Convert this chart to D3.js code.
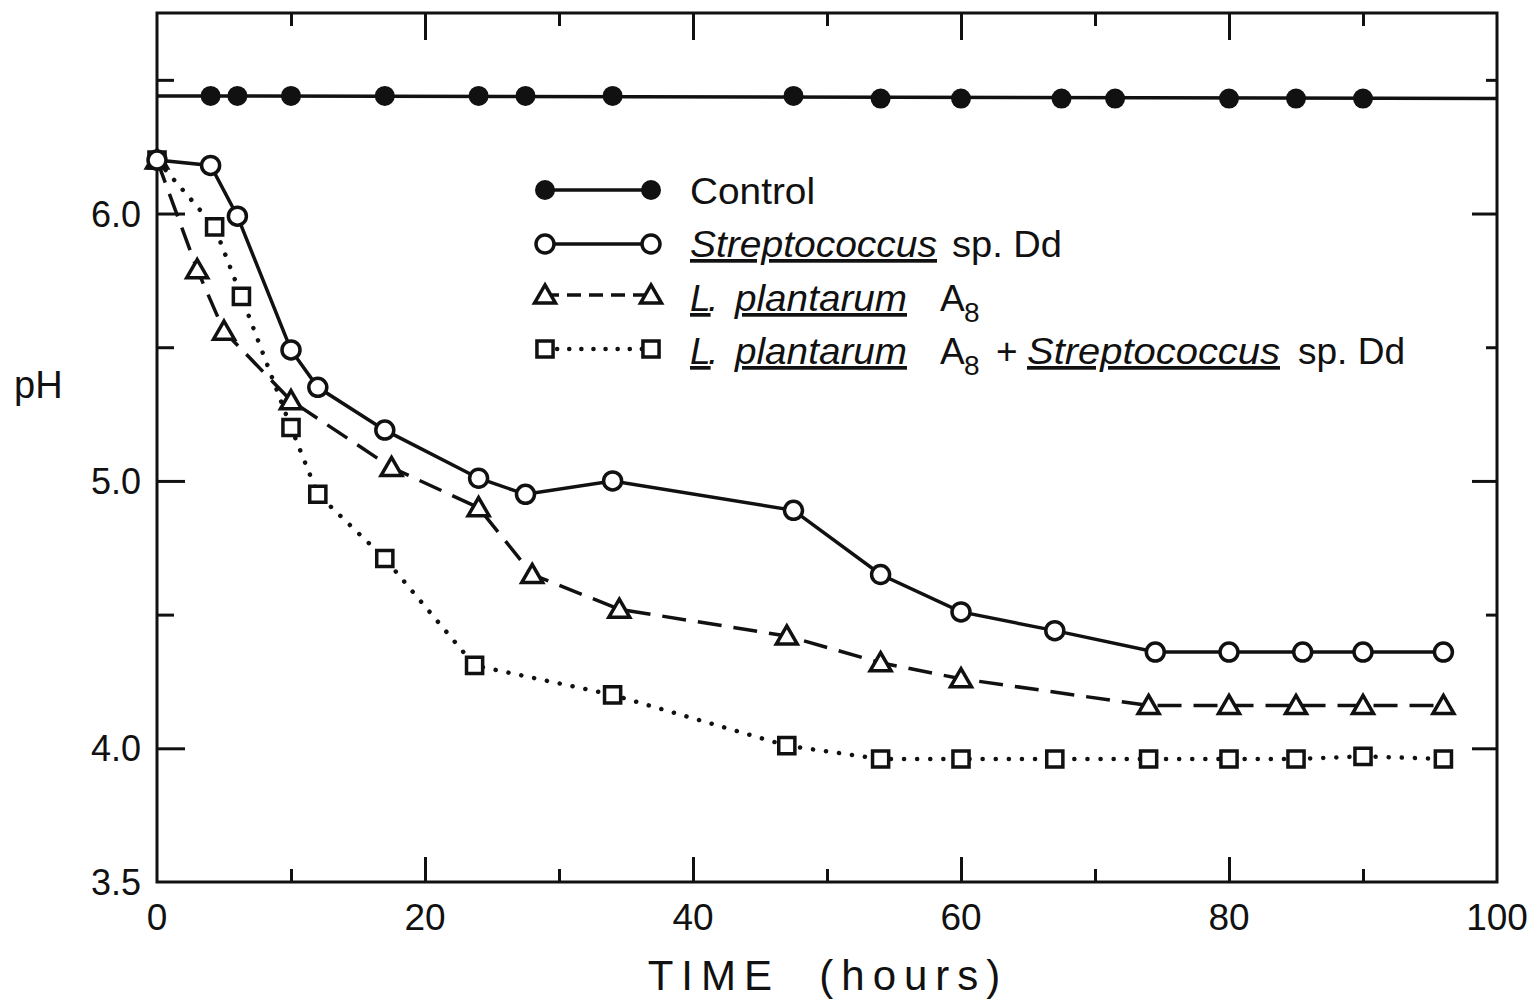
<!DOCTYPE html>
<html>
<head>
<meta charset="utf-8">
<script src="https://cdn.jsdelivr.net/npm/d3@7"></script>
<style>
  body { margin: 0; background: #fff; }
  text { font-family: "Liberation Sans", Arial, sans-serif; fill: #111; }
</style>
</head>
<body>
<svg width="1540" height="1001"></svg>
<script>
// data (time in hours, pH)
var controlHours = [4, 6, 10, 17, 24, 27.5, 34, 47.5, 54, 60, 67.5, 71.5, 80, 85, 90];
var controlPH    = [6.44, 6.44, 6.44, 6.44, 6.44, 6.44, 6.44, 6.44, 6.43, 6.43, 6.43, 6.43, 6.43, 6.43, 6.43];
var controlLineHours = [0, 100];
var controlLinePH    = [6.44, 6.43];

var streptoHours = [0, 4, 6, 10, 12, 17, 24, 27.5, 34, 47.5, 54, 60, 67, 74.5, 80, 85.5, 90, 96];
var streptoPH    = [6.20, 6.18, 5.99, 5.49, 5.35, 5.19, 5.01, 4.95, 5.00, 4.89, 4.65, 4.51, 4.44, 4.36, 4.36, 4.36, 4.36, 4.36];

var plantHours = [0, 3, 5, 10, 17.5, 24, 28, 34.5, 47, 54, 60, 74, 80, 85, 90, 96];
var plantPH    = [6.20, 5.79, 5.56, 5.30, 5.05, 4.90, 4.65, 4.52, 4.42, 4.32, 4.26, 4.16, 4.16, 4.16, 4.16, 4.16];

var mixHours = [0, 4.3, 6.3, 10, 12, 17, 23.7, 34, 47, 54, 60, 67, 74, 80, 85, 90, 96];
var mixPH    = [6.20, 5.95, 5.69, 5.20, 4.95, 4.71, 4.31, 4.20, 4.01, 3.96, 3.96, 3.96, 3.96, 3.96, 3.96, 3.97, 3.96];

var xMajor = [20, 40, 60, 80];
var xMinor = [10, 30, 50, 70, 90];
var xLabels = [0, 20, 40, 60, 80, 100];
var yMajor = [4.0, 5.0, 6.0];
var yMinor = [4.5, 5.5, 6.5];
var yLabels = [3.5, 4.0, 5.0, 6.0];

var svg = d3.select("svg"),
    plotLeft = 157, plotRight = 1497, plotTop = 13, plotBottom = 882;

var x = d3.scaleLinear().domain([0, 100]).range([plotLeft, plotRight]),
    y = d3.scaleLinear().domain([3.5, 6.75]).range([plotBottom, plotTop]);

function pairs(a, b) { return a.map(function(d, i) { return [d, b[i]]; }); }

// ticks pointing into the plot on all four sides
function tickAxis(axis, pos, values, len) {
  var g = svg.append("g")
     .attr("transform", pos)
     .call(axis.tickValues(values).tickSize(len).tickFormat(""));
  g.select(".domain").remove();
  g.selectAll(".tick line").attr("stroke", "#111").attr("stroke-width", 3);
}
tickAxis(d3.axisBottom(x), "translate(0," + plotBottom + ")", xMajor, -25);
tickAxis(d3.axisBottom(x), "translate(0," + plotBottom + ")", xMinor, -13);
tickAxis(d3.axisTop(x), "translate(0," + plotTop + ")", xMajor, -27);
tickAxis(d3.axisTop(x), "translate(0," + plotTop + ")", xMinor, -13);
tickAxis(d3.axisLeft(y), "translate(" + plotLeft + ",0)", yMajor, -28);
tickAxis(d3.axisLeft(y), "translate(" + plotLeft + ",0)", yMinor, -17);
tickAxis(d3.axisRight(y), "translate(" + plotRight + ",0)", yMajor, -25);
tickAxis(d3.axisRight(y), "translate(" + plotRight + ",0)", yMinor, -11);

svg.append("rect")
   .attr("x", plotLeft).attr("y", plotTop)
   .attr("width", plotRight - plotLeft).attr("height", plotBottom - plotTop)
   .attr("fill", "none").attr("stroke", "#111").attr("stroke-width", 3);

// tick labels
svg.selectAll(".xl").data(xLabels).enter().append("text")
   .attr("x", function(d) { return x(d); })
   .attr("y", plotBottom + 48)
   .attr("text-anchor", "middle")
   .attr("font-size", "37px")
   .text(function(d) { return d; });

svg.selectAll(".yl").data(yLabels).enter().append("text")
   .attr("x", plotLeft - 16)
   .attr("y", function(d) { return y(d) + 13; })
   .attr("text-anchor", "end")
   .attr("font-size", "36px")
   .text(function(d) { return d.toFixed(1); });

svg.append("text")
   .attr("x", 828).attr("y", 990)
   .attr("text-anchor", "middle")
   .attr("font-size", "42px")
   .attr("letter-spacing", "8px")
   .attr("xml:space", "preserve")
   .text("TIME  (hours)");

svg.append("text")
   .attr("x", 14).attr("y", 398)
   .attr("font-size", "38px")
   .text("pH");

// series
var line = d3.line().x(function(d) { return x(d[0]); }).y(function(d) { return y(d[1]); });

function drawLine(data, dash, width, cap) {
  svg.append("path")
     .datum(data)
     .attr("d", line)
     .attr("fill", "none")
     .attr("stroke", "#111")
     .attr("stroke-width", width)
     .attr("stroke-linecap", cap || "butt")
     .attr("stroke-dasharray", dash);
}

drawLine(pairs(controlLineHours, controlLinePH), null, 3.5);
drawLine(pairs(streptoHours, streptoPH), null, 3.5);
drawLine(pairs(plantHours, plantPH), "24 12", 3.5);
drawLine(pairs(mixHours, mixPH), "0.1 13", 4.5, "round");

var triangle = d3.symbol().type(d3.symbolTriangle).size(190),
    square = d3.symbol().type(d3.symbolSquare).size(260);

function marker(g, kind, px, py) {
  if (kind === "filled") {
    g.append("circle").attr("cx", px).attr("cy", py).attr("r", 10).attr("fill", "#111");
  } else if (kind === "circle") {
    g.append("circle").attr("cx", px).attr("cy", py).attr("r", 9)
     .attr("fill", "#fff").attr("stroke", "#111").attr("stroke-width", 3.5);
  } else {
    g.append("path").attr("d", kind === "triangle" ? triangle() : square())
     .attr("transform", "translate(" + px + "," + (py + (kind === "triangle" ? 2 : 0)) + ")")
     .attr("fill", "#fff").attr("stroke", "#111").attr("stroke-width", 3.5);
  }
}

var mg = svg.append("g");
pairs(mixHours, mixPH).forEach(function(d) { marker(mg, "square", x(d[0]), y(d[1])); });
pairs(plantHours, plantPH).forEach(function(d) { marker(mg, "triangle", x(d[0]), y(d[1])); });
pairs(streptoHours, streptoPH).forEach(function(d) { marker(mg, "circle", x(d[0]), y(d[1])); });
pairs(controlHours, controlPH).forEach(function(d) { marker(mg, "filled", x(d[0]), y(d[1])); });

// legend
var lg = svg.append("g");
var legendRows = [
  {y: 190, kind: "filled", dash: null, width: 3.5},
  {y: 244, kind: "circle", dash: null, width: 3.5},
  {y: 295, kind: "triangle", dash: "14 8", width: 3.5},
  {y: 349, kind: "square", dash: "0.1 12", width: 4.5}
];
legendRows.forEach(function(r) {
  lg.append("line")
    .attr("x1", 545).attr("x2", 651).attr("y1", r.y).attr("y2", r.y)
    .attr("stroke", "#111").attr("stroke-width", r.width)
    .attr("stroke-linecap", r.dash && r.dash.indexOf("0.1") === 0 ? "round" : "butt")
    .attr("stroke-dasharray", r.dash);
  marker(lg, r.kind, 545, r.y);
  marker(lg, r.kind, 651, r.y);
});

function label(px, py, txt, opts) {
  opts = opts || {};
  var t = lg.append("text").attr("x", px).attr("y", py)
    .attr("font-size", opts.size || "37px")
    .text(txt);
  if (opts.italic) t.attr("font-style", "italic");
  if (opts.under) t.attr("text-decoration", "underline");
  if (opts.len) t.attr("textLength", opts.len).attr("lengthAdjust", "spacingAndGlyphs");
  return t;
}

label(690, 204, "Control", {len: 125});
label(690, 257, "Streptococcus", {italic: true, under: true, len: 247});
label(952, 257, "sp. Dd", {len: 110});
label(690, 311, "L", {italic: true, under: true});
label(708, 311, ".", {italic: true});
label(735, 311, "plantarum", {italic: true, under: true, len: 172});
label(940, 311, "A");
label(964, 322, "8", {size: "28px"});
label(690, 364, "L", {italic: true, under: true});
label(708, 364, ".", {italic: true});
label(735, 364, "plantarum", {italic: true, under: true, len: 172});
label(940, 364, "A");
label(964, 375, "8", {size: "28px"});
label(996, 364, "+");
label(1027, 364, "Streptococcus", {italic: true, under: true, len: 253});
label(1298, 364, "sp. Dd", {len: 107});
</script>
</body>
</html>
